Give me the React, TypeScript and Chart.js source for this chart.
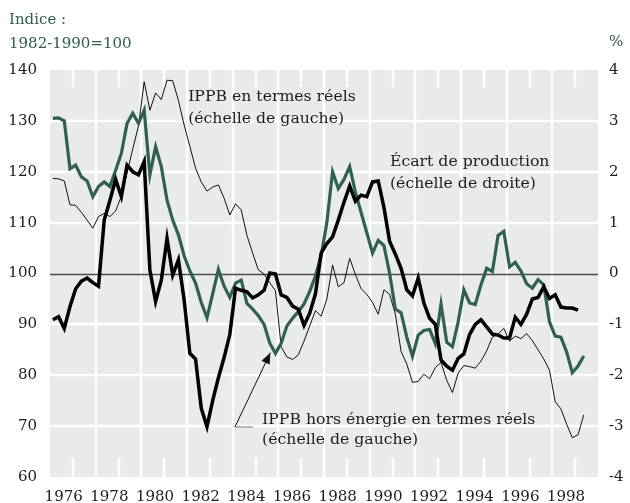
import React, { useEffect, useRef } from "react";
import { Chart, registerables } from "chart.js";

Chart.register(...registerables);

// ---------- DATA ----------
// Quarterly observations, 1976T1 .. 1999T2 (plotted at the middle of each quarter)
const firstYear = 1976;
const quarterCount = 94;
const quarterTimes: number[] = Array.from({ length: quarterCount }, (_, i) => firstYear + 0.125 + 0.25 * i);

// IPPB en termes réels (échelle de gauche) — thin black line
const ippbTotal: number[] = [
  118.7, 118.6, 118.2, 113.5, 113.4, 112.0, 110.5, 108.9, 111.2, 111.8,
  111.2, 112.3, 115.2, 119.8, 124.5, 129.0, 137.7, 132.1, 135.5, 134.2,
  138.0, 137.9, 134.0, 129.2, 125.0, 120.7, 118.0, 116.2, 117.0, 117.4,
  114.8, 111.5, 113.7, 112.5, 107.5, 104.0, 100.7, 99.9, 98.2, 96.6,
  85.6, 83.6, 83.1, 84.0, 86.7, 89.7, 92.7, 91.6, 95.0, 101.7,
  97.4, 98.2, 103.0, 99.8, 97.0, 95.9, 94.3, 92.0, 96.8, 95.9,
  92.0, 84.7, 82.2, 78.6, 78.8, 80.2, 79.3, 81.5, 82.5, 79.0,
  76.6, 80.4, 81.9, 81.7, 81.4, 82.8, 84.8, 87.5, 88.1, 89.2,
  86.7, 87.7, 87.2, 88.2, 86.8, 85.0, 83.2, 81.0, 74.8, 73.4,
  70.4, 67.7, 68.3, 72.2,
];

// IPPB hors énergie en termes réels (échelle de gauche) — thick green line
const ippbHorsEnergie: number[] = [
  130.5, 130.6, 130.0, 120.6, 121.3, 119.0, 118.2, 115.1, 117.1, 118.0,
  117.1, 120.3, 123.6, 129.5, 131.5, 129.5, 132.1, 119.4, 124.9, 121.0,
  114.4, 110.5, 107.6, 103.5, 100.5, 98.1, 94.3, 91.3, 96.0, 100.8,
  97.5, 95.3, 98.1, 98.7, 94.1, 93.0, 91.7, 90.0, 86.3, 84.3,
  86.3, 89.7, 91.2, 92.5, 94.0, 96.5, 99.5, 103.5, 110.0, 120.0,
  116.7, 118.5, 121.0, 116.0, 112.0, 108.0, 104.0, 106.5, 105.5, 100.0,
  93.0, 92.3, 87.5, 83.7, 87.9, 88.8, 89.0, 86.2, 94.0, 86.5,
  85.6, 90.5, 96.8, 94.2, 93.9, 97.8, 101.0, 100.4, 107.5, 108.3,
  101.3, 102.2, 100.5, 98.0, 97.1, 98.8, 97.8, 90.5, 87.7, 87.5,
  84.6, 80.5, 81.8, 83.8,
];

// Écart de production (échelle de droite, %) — thick black line, 1976T1 .. 1999T1
const ecartProduction: number[] = [
  -0.91, -0.85, -1.08, -0.65, -0.30, -0.15, -0.09, -0.18, -0.25, 1.05,
  1.44, 1.85, 1.51, 2.13, 2.00, 1.94, 2.20, 0.07, -0.55, -0.13,
  0.69, -0.03, 0.27, -0.52, -1.57, -1.68, -2.65, -3.01, -2.50, -2.05,
  -1.65, -1.20, -0.29, -0.33, -0.36, -0.48, -0.42, -0.33, 0.01, -0.01,
  -0.42, -0.47, -0.64, -0.70, -1.02, -0.78, -0.40, 0.40, 0.59, 0.72,
  1.05, 1.40, 1.72, 1.42, 1.54, 1.51, 1.80, 1.82, 1.30, 0.63,
  0.38, 0.10, -0.32, -0.44, -0.09, -0.58, -0.88, -1.00, -1.70, -1.82,
  -1.90, -1.67, -1.58, -1.20, -1.00, -0.91, -1.05, -1.19, -1.21, -1.27,
  -1.27, -0.86, -1.00, -0.80, -0.50, -0.47, -0.26, -0.49, -0.42, -0.66,
  -0.68, -0.68, -0.72,
];

const yearLabels: number[] = [1976, 1978, 1980, 1982, 1984, 1986, 1988, 1990, 1992, 1994, 1996, 1998];
const fullGridYears: number[] = [1978, 1980, 1982, 1984, 1986, 1988, 1990, 1992, 1994, 1996, 1998];
const shortTickYears: number[] = [1977, 1979, 1981, 1983, 1985, 1987, 1989, 1991, 1993, 1995, 1997, 1999];
const leftTicks: number[] = [60, 70, 80, 90, 100, 110, 120, 130, 140];
const rightTicks: number[] = [-4, -3, -2, -1, 0, 1, 2, 3, 4];
const leftGridLines: number[] = [70, 80, 90, 110, 120, 130];

// ---------- STYLE ----------
const FONT = "'DejaVu Serif', serif";
const GREEN = "#325f53";
const TITLE_COLOR = "#2f5b50";
const PLOT_BG = "#e8ebe9";
const TEXT = "#1c1c1c";

const backgroundPlugin = {
  id: "bgGrid",
  beforeDatasetsDraw(chart: any) {
    const { ctx, chartArea, scales } = chart;
    const { left, right, top, bottom } = chartArea;
    const x = scales.x;
    const yL = scales.yL;
    ctx.save();
    ctx.fillStyle = PLOT_BG;
    ctx.fillRect(left, top, right - left, bottom - top);
    ctx.strokeStyle = "#ffffff";
    ctx.lineWidth = 2.5;
    ctx.beginPath();
    for (const v of leftGridLines) {
      const py = Math.round(yL.getPixelForValue(v));
      ctx.moveTo(left, py);
      ctx.lineTo(right, py);
    }
    for (const yr of fullGridYears) {
      const px = Math.round(x.getPixelForValue(yr));
      ctx.moveTo(px, top);
      ctx.lineTo(px, bottom);
    }
    for (const yr of shortTickYears) {
      const px = Math.round(x.getPixelForValue(yr));
      ctx.moveTo(px, top);
      ctx.lineTo(px, top + 17);
      ctx.moveTo(px, bottom - 19);
      ctx.lineTo(px, bottom);
    }
    ctx.stroke();
    // reference line (100 / 0 %)
    ctx.strokeStyle = "#4d4d4d";
    ctx.lineWidth = 1.3;
    ctx.beginPath();
    const p100 = Math.round(yL.getPixelForValue(100)) + 0.5;
    ctx.moveTo(left, p100);
    ctx.lineTo(right, p100);
    ctx.stroke();
    ctx.restore();
  },
};

const annotationPlugin = {
  id: "annotations",
  afterDatasetsDraw(chart: any) {
    const { ctx, scales } = chart;
    const x = scales.x;
    const yL = scales.yL;
    const X = (t: number) => x.getPixelForValue(t);
    const Y = (v: number) => yL.getPixelForValue(v);
    ctx.save();
    ctx.font = `15.7px ${FONT}`;
    ctx.fillStyle = TEXT;
    ctx.textBaseline = "alphabetic";
    ctx.textAlign = "left";
    ctx.fillText("IPPB en termes réels", X(1982.05), Y(133.9));
    ctx.fillText("(échelle de gauche)", X(1982.05), Y(129.6));
    ctx.fillText("Écart de production", X(1990.89), Y(121.1));
    ctx.fillText("(échelle de droite)", X(1990.89), Y(116.8));
    ctx.fillText("IPPB hors énergie en termes réels", X(1985.29), Y(70.4));
    ctx.fillText("(échelle de gauche)", X(1985.29), Y(66.5));

    // connector + arrow
    const sx = X(1984.1), sy = Y(69.83);
    const tx = X(1985.65), ty = Y(84.43);
    ctx.strokeStyle = "#8a8a8a";
    ctx.lineWidth = 1.2;
    ctx.beginPath();
    ctx.moveTo(sx, sy);
    ctx.lineTo(X(1984.89), sy);
    ctx.stroke();
    ctx.strokeStyle = "#111";
    ctx.lineWidth = 1;
    ctx.beginPath();
    ctx.moveTo(sx, sy);
    ctx.lineTo(tx, ty);
    ctx.stroke();
    const ang = Math.atan2(ty - sy, tx - sx);
    const len = 11, half = 4.5;
    const bx = tx - len * Math.cos(ang), by = ty - len * Math.sin(ang);
    ctx.fillStyle = "#111";
    ctx.beginPath();
    ctx.moveTo(tx, ty);
    ctx.lineTo(bx + half * Math.sin(ang), by - half * Math.cos(ang));
    ctx.lineTo(bx - half * Math.sin(ang), by + half * Math.cos(ang));
    ctx.closePath();
    ctx.fill();

    // axis titles
    ctx.fillStyle = TITLE_COLOR;
    ctx.font = `15px ${FONT}`;
    ctx.fillText("Indice :", 9, 24);
    ctx.fillText("1982-1990=100", 9, 48);
    ctx.fillText("%", 609, 46);
    ctx.restore();
  },
};

export default function App() {
  const canvasRef = useRef<HTMLCanvasElement | null>(null);

  useEffect(() => {
    const canvas = canvasRef.current;
    if (!canvas) return;
    const toPoints = (vals: number[]) => vals.map((v, i) => ({ x: quarterTimes[i], y: v }));
    const tickFont = { family: FONT, size: 15 };
    const chart = new Chart(canvas, {
      type: "line",
      data: {
        datasets: [
          {
            label: "Écart de production",
            data: toPoints(ecartProduction),
            borderColor: "#000000",
            borderWidth: 3.5,
            pointRadius: 0,
            tension: 0,
            yAxisID: "yR",
            order: 1,
          },
          {
            label: "IPPB hors énergie en termes réels",
            data: toPoints(ippbHorsEnergie),
            borderColor: GREEN,
            borderWidth: 3.2,
            pointRadius: 0,
            tension: 0,
            yAxisID: "yL",
            order: 2,
          },
          {
            label: "IPPB en termes réels",
            data: toPoints(ippbTotal),
            borderColor: "#111111",
            borderWidth: 1,
            pointRadius: 0,
            tension: 0,
            yAxisID: "yL",
            order: 3,
          },
        ],
      },
      options: {
        responsive: false,
        animation: false,
        devicePixelRatio: 1,
        layout: { padding: { top: 70, left: 0, right: 0, bottom: 0 } },
        plugins: { legend: { display: false }, tooltip: { enabled: false } },
        scales: {
          x: {
            type: "linear",
            min: 1976,
            max: 2000,
            grid: { display: false, drawTicks: false },
            border: { display: false },
            afterBuildTicks: (s: any) => {
              s.ticks = yearLabels.map((y) => ({ value: y + 0.6 }));
            },
            afterFit: (s: any) => {
              s.height = 26;
            },
            ticks: {
              autoSkip: false,
              maxRotation: 0,
              padding: 11,
              color: TEXT,
              font: tickFont,
              callback: (v: any) => String(Math.floor(Number(v))),
            },
          },
          yL: {
            type: "linear",
            position: "left",
            min: 60,
            max: 140,
            grid: { display: false, drawTicks: false },
            border: { display: false },
            afterBuildTicks: (s: any) => {
              s.ticks = leftTicks.map((v) => ({ value: v }));
            },
            afterFit: (s: any) => {
              s.width = 50;
            },
            ticks: { padding: 13, color: TEXT, font: tickFont },
          },
          yR: {
            type: "linear",
            position: "right",
            min: -4,
            max: 4,
            grid: { display: false, drawTicks: false },
            border: { display: false },
            afterBuildTicks: (s: any) => {
              s.ticks = rightTicks.map((v) => ({ value: v }));
            },
            afterFit: (s: any) => {
              s.width = 32;
            },
            ticks: { padding: 11, color: TEXT, font: tickFont },
          },
        },
      },
      plugins: [backgroundPlugin, annotationPlugin],
    });
    return () => chart.destroy();
  }, []);

  return (
    <div style={{ position: "fixed", left: 0, top: 0, width: 630, height: 503, background: "#ffffff" }}>
      <canvas ref={canvasRef} width={630} height={503} style={{ width: 630, height: 503, display: "block" }} />
    </div>
  );
}
